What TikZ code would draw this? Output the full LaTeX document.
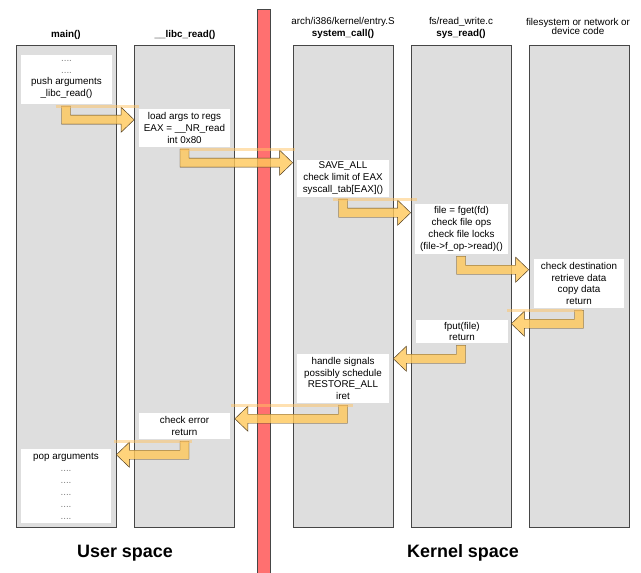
\documentclass[tikz,border=0pt]{standalone}
\usepackage{fontspec}
\setmainfont{Liberation Sans}
\usepackage{tikz}
\usetikzlibrary{calc}
\definecolor{colfill}{RGB}{222,222,222}
\definecolor{coledge}{RGB}{70,70,70}
\definecolor{wallred}{RGB}{255,112,112}
\definecolor{arrowfill}{RGB}{255,200,90}
\definecolor{arrowedge}{RGB}{80,60,30}
\definecolor{glintcol}{RGB}{255,196,100}

\tikzset{
  column/.style={draw=coledge, fill=colfill, line width=0.6pt, minimum width=30mm, minimum height=144.6mm, inner sep=0pt},
  stepbox/.style={fill=white, inner sep=0pt, align=center},
  header/.style={align=center, inner sep=0pt},
  wall/.style={draw=coledge, fill=wallred, line width=0.6pt},
  fatarrow/.style={fill=arrowfill, fill opacity=0.8, draw=arrowedge, line width=0.4pt},
  glint/.style={draw=glintcol, line width=0.8mm, opacity=0.5},
  spacelabel/.style={font=\fontsize{15.3}{18}\selectfont\bfseries}
}

% L-shaped call arrow: name, source box, source column, target side
\newcommand{\callarrow}[4]{%
  \coordinate (#1s) at ($(#2.south -| #3.center)+(0,2)$);
  \coordinate (#1t) at ($(#4 |- #1s)+(0,13.5)$);
  \path[fatarrow] let \p1=(#1s), \p2=(#1t), \n1={sign(\x2-\x1)} in
    ({\x1-(\n1)*1.35mm},\y1) -- ({\x1+(\n1)*1.35mm},\y1)
    -- ({\x1+(\n1)*1.35mm},{\y2+1.35mm}) -- ({\x2-(\n1)*3.9mm},{\y2+1.35mm})
    -- ({\x2-(\n1)*3.9mm},{\y2+3.75mm}) -- (\x2,\y2)
    -- ({\x2-(\n1)*3.9mm},{\y2-3.75mm}) -- ({\x2-(\n1)*3.9mm},{\y2-1.35mm})
    -- ({\x1-(\n1)*1.35mm},{\y2-1.35mm}) -- cycle;
}

\begin{document}
\begin{tikzpicture}[x=0.3mm, y=-0.3mm, every node/.style={font=\fontsize{8.4}{10.2}\selectfont}]
  \useasboundingbox (0,0) rectangle (641,573);

  % headers
  \node[header, font=\fontsize{8.4}{10.2}\selectfont\bfseries] (hmain) at (66,35) {main()};
  \node[header, font=\fontsize{8.4}{10.2}\selectfont\bfseries] (hlibc) at (185,35) {\_\_libc\_read()};
  \node[header] (hcall) at (343,28) {arch/i386/kernel/entry.S\\\textbf{system\_call()}};
  \node[header] (hread) at (461,28) {fs/read\_write.c\\\textbf{sys\_read()}};
  \node[header, font=\fontsize{8.4}{8}\selectfont] (hfs) at (578,26.5) {filesystem or network or\\device code};

  % columns
  \node[column] (maincol) at (66,286) {};
  \node[column] (libccol) at (184.5,286) {};
  \node[column] (callcol) at (343,286) {};
  \node[column] (readcol) at (461,286) {};
  \node[column] (fscol) at (579,286) {};

  % user/kernel boundary
  \draw[wall] (257,9) rectangle (270,573);

  % steps
  \node[stepbox, minimum width=27.3mm, minimum height=14.7mm] (pushbox) at (66.5,79.5)
    {{\color{gray}....}\\{\color{gray}....}\\push arguments\\\_libc\_read()};
  \node[stepbox, minimum width=27.3mm, minimum height=11.4mm] (loadbox) at (184.5,128)
    {load args to regs\\EAX = \_\_NR\_read\\int 0x80};
  \node[stepbox, minimum width=27.6mm, minimum height=11.1mm] (savebox) at (343,178.5)
    {SAVE\_ALL\\check limit of EAX\\syscall\_tab[EAX]()};
  \node[stepbox, minimum width=27.9mm, minimum height=15mm] (fgetbox) at (461.5,229)
    {file = fget(fd)\\check file ops\\check file locks\\(file->f\_op->read)()};
  \node[stepbox, minimum width=27mm, minimum height=14.7mm] (copybox) at (579,283.5)
    {check destination\\retrieve data\\copy data\\return};
  \node[stepbox, minimum width=27.6mm, minimum height=6.9mm] (fputbox) at (462,331.5)
    {fput(file)\\return};
  \node[stepbox, minimum width=27.6mm, minimum height=14.7mm] (iretbox) at (343,378.5)
    {handle signals\\possibly schedule\\RESTORE\_ALL\\iret};
  \node[stepbox, minimum width=27.3mm, minimum height=7.8mm] (errbox) at (184.5,426)
    {check error\\return};
  \node[stepbox, minimum width=27mm, minimum height=22.2mm] (popbox) at (66,486)
    {pop arguments\\{\color{gray}....}\\{\color{gray}....}\\{\color{gray}....}\\{\color{gray}....}\\{\color{gray}....}};

  % calls and returns
  \callarrow{a1}{pushbox}{maincol}{libccol.west}
  \callarrow{a2}{loadbox}{libccol}{callcol.west}
  \callarrow{a3}{savebox}{callcol}{readcol.west}
  \callarrow{a4}{fgetbox}{readcol}{fscol.west}
  \callarrow{a5}{copybox}{fscol}{readcol.east}
  \callarrow{a6}{fputbox}{readcol}{callcol.east}
  \callarrow{a7}{iretbox}{callcol}{libccol.east}
  \callarrow{a8}{errbox}{libccol}{maincol.east}

  \draw[glint] ($(a1s)+(-10.5,0)$) -- ($(a1t |- a1s)+(5,0)$);
  \draw[glint] ($(a2s)+(-4.5,0)$) -- ($(a2t |- a2s)+(2,0)$);
  \draw[glint] ($(a3s)+(-10.5,0)$) -- ($(a3t |- a3s)+(6,0)$);
  \draw[glint] ($(a5t |- a5s)+(-4,0)$) -- ($(a5s)+(2.5,0)$);
  \draw[glint] ($(a7t |- a7s)+(-4,0)$) -- ($(a7s)+(10,0)$);
  \draw[glint] ($(a8t |- a8s)+(-2,0)$) -- ($(a8s)+(7.5,0)$);

  \node[spacelabel] (user) at (125,553) {User space};
  \node[spacelabel] (kernel) at (463,553) {Kernel space};
\end{tikzpicture}
\end{document}
